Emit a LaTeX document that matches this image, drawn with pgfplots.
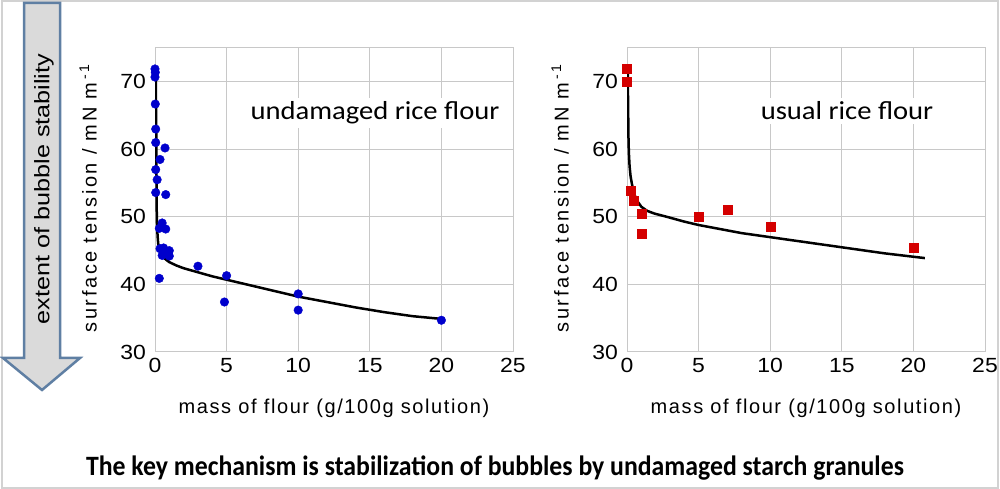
\documentclass[border=0pt]{standalone}
\usepackage{fontspec}
\setmainfont{Liberation Sans}
\newfontfamily\tickfont[FakeStretch=1.12]{Liberation Sans}
\newfontfamily\xlblfont[LetterSpace=8]{Liberation Sans}
\newfontfamily\ylblfont[LetterSpace=13]{Liberation Sans}
\newfontfamily\calfont[FakeStretch=1.1]{Carlito}
\newfontfamily\titlefont[FakeStretch=0.92]{Carlito}
\newfontfamily\arrowfont[FakeStretch=1.2]{Liberation Sans}
\usepackage{pgfplots}
\pgfplotsset{compat=1.18}
\definecolor{gridgray}{RGB}{200,200,200}
\definecolor{ptblue}{RGB}{0,0,204}
\definecolor{ptred}{RGB}{212,0,0}
\definecolor{arrowedge}{RGB}{95,127,163}
\definecolor{arrowfill}{RGB}{218,218,218}
\pgfplotsset{
  flourax/.style={
    scale only axis, width=358bp, height=304bp,
    xmin=0, xmax=25, ymin=30, ymax=75,
    xtick={0,5,10,15,20,25}, ytick={30,40,50,60,70},
    grid=major,
    major grid style={gridgray, line width=1bp},
    axis line style={gridgray, line width=1bp},
    major tick length=0pt,
    /pgf/number format/assume math mode=true,
    tick label style={font=\tickfont\fontsize{20.5bp}{24bp}\selectfont, text=black},
    yticklabel style={anchor=east, inner sep=0pt, xshift=-9bp},
    xticklabel style={anchor=north, inner sep=0pt, yshift=-6bp},
    xlabel={mass of flour (g/100g solution)},
    ylabel={surface tension / mN m\,\textsuperscript{-1}},
    xlabel style={font=\xlblfont\fontsize{20bp}{24bp}\selectfont, at={(axis description cs:0.5,-0.184)}, anchor=center},
    ylabel style={font=\ylblfont\fontsize{20bp}{24bp}\selectfont, at={(axis description cs:-0.187,0.505)}, anchor=center},
  }
}
\begin{document}
\begin{tikzpicture}
\path[use as bounding box] (0,0) rectangle (1000bp,489bp);
\draw[gray!35, line width=1.2bp] (2bp,1bp) rectangle (998bp,488bp);
% arrow
\draw[arrowedge, line width=2.5bp, fill=arrowfill, line join=miter]
  (24bp,486bp) -- (60bp,486bp) -- (60bp,131bp) -- (80bp,131bp) -- (42bp,99bp)
  -- (3bp,131bp) -- (24bp,131bp) -- cycle;
\node[rotate=90, font=\arrowfont\fontsize{21bp}{25bp}\selectfont, inner sep=0pt]
  at (44bp,300bp) {extent of bubble stability};
% left chart
\begin{axis}[flourax, at={(155bp,137bp)}, anchor=south west]
\addplot[black, line width=2.5bp, no marks] coordinates {
(0.05,71.5) (0.07,67) (0.09,62) (0.10,58) (0.11,54) (0.12,51) (0.14,49)
(0.18,47.2) (0.22,46.1) (0.3,45.2) (0.4,44.6) (0.55,44.1) (0.75,43.7)
(1,43.3) (1.5,42.8) (2,42.4) (3,41.8) (4,41.2) (5,40.7) (6,40.2) (7,39.7)
(8,39.2) (9,38.7) (10,38.2) (12,37.4) (14,36.6) (16,35.9) (18,35.3) (20,34.9)
};
\addplot[only marks, mark=*, mark size=4.3bp, mark options={fill=ptblue, draw=ptblue}] coordinates {
(0,71.9) (0.02,71.4) (0,70.7) (0.02,66.7) (0.05,63.0) (0.05,61.0) (0.7,60.2)
(0.35,58.5) (0.05,57.0) (0.15,55.5) (0.05,53.6) (0.75,53.3) (0.5,49.1)
(0.3,48.3) (0.75,48.2) (0.35,45.3) (0.6,45.4) (0.5,44.3) (0.8,44.6)
(1.0,45.0) (1.0,44.2) (0.3,40.9) (3.0,42.7) (5.0,41.3) (4.85,37.4)
(10,38.6) (10,36.2) (20,34.7)
};
\end{axis}
\node[fill=white, inner xsep=5bp, inner ysep=4bp, anchor=base,
  font=\calfont\fontsize{26bp}{30bp}\selectfont] at (375bp,369bp) {undamaged rice flour};
% right chart
\begin{axis}[flourax, at={(627bp,137bp)}, anchor=south west]
\addplot[black, line width=2.5bp, no marks] coordinates {
(0.05,71.5) (0.08,66) (0.10,62) (0.13,59.5) (0.18,57.5) (0.25,56) (0.35,54.8)
(0.5,53.4) (0.7,52.4) (1,51.5) (1.4,50.9) (1.9,50.5) (2.8,50.0) (4,49.3)
(5,48.8) (6,48.4) (7,48.0) (8,47.6) (10,47.0) (12,46.4) (15,45.5) (18,44.6)
(20,44.1) (20.8,43.9)
};
\addplot[only marks, mark=square*, mark size=4.5bp, mark options={fill=ptred, draw=ptred}] coordinates {
(0,71.9) (0,70.0) (0.23,53.9) (0.5,52.4) (1.05,50.4) (1.05,47.5)
(5,50.1) (7,51.0) (10,48.6) (20,45.4)
};
\end{axis}
\node[fill=white, inner xsep=5bp, inner ysep=4bp, anchor=base,
  font=\calfont\fontsize{26bp}{30bp}\selectfont] at (847bp,369bp) {usual rice flour};
% title
\node[anchor=base, inner sep=0pt, font=\titlefont\bfseries\fontsize{28bp}{32bp}\selectfont]
  at (495bp,14bp) {The key mechanism is stabilization of bubbles by undamaged starch granules};
\end{tikzpicture}
\end{document}
